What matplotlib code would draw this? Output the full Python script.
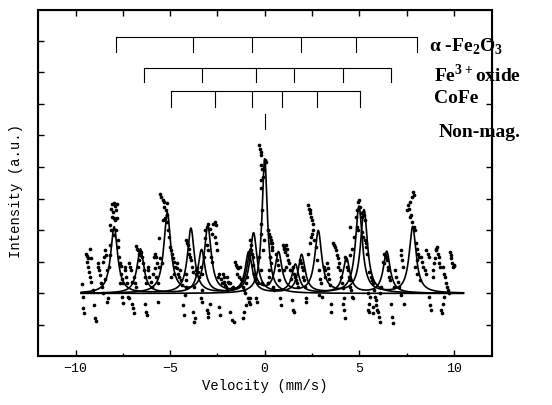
import numpy as np
import matplotlib.pyplot as plt

plt.rcParams['mathtext.fontset'] = 'custom'
plt.rcParams['mathtext.rm'] = 'Liberation Serif:bold'
plt.rcParams['mathtext.bf'] = 'Liberation Serif:bold'
plt.rcParams['axes.unicode_minus'] = True

# measured spectrum (velocity mm/s, relative intensity)
vel = [-9.67, -9.63, -9.58, -9.55, -9.45, -9.40, -9.33, -9.25, -9.20, -9.41, -9.33, -9.30, -9.25, -9.16, -9.08, -9.00, -8.96, -8.93,
       -8.83, -8.80, -8.75, -8.70, -8.63, -8.58, -8.53, -8.49, -8.44, -8.41, -8.36, -8.33, -8.29, -8.55, -8.44,
       -8.13, -8.08, -7.99, -7.91, -7.83, -7.86, -8.03, -7.96, -8.08, -7.91, -7.79, -8.16, -8.11, -7.99, -7.86, -7.78,
       -8.16, -7.74, -8.19, -7.69, -7.66, -8.24, -7.61, -7.56, -7.49, -7.53, -7.49, -7.58, -7.66,
       -7.41, -7.36, -7.32, -7.29, -7.24, -7.19, -7.16, -7.12, -7.07, -7.02, -6.99, -6.96, -6.92, -6.89, -6.86,
       -6.79, -6.74, -6.69, -6.62, -6.57, -6.52, -6.49, -6.66, -6.72, -6.45, -6.40, -6.35, -6.82, -6.29, -6.32, -6.27, -6.24,
       -6.19, -6.15, -6.10, -6.02, -5.95, -5.90, -5.85, -5.79, -5.74, -5.69, -5.82, -5.74, -5.65, -5.62, -5.52, -5.45, -5.57,
       -5.52, -5.48, -5.40, -5.32, -5.18, -5.35, -5.23, -5.15, -5.28, -5.40, -5.18, -5.12, -5.07, -5.57, -5.02, -4.98,
       -4.90, -4.85, -4.82, -4.73, -4.78, -4.95,
       -4.65, -4.62, -4.57, -4.52, -4.48, -4.40, -4.35, -4.31, -4.28, -4.23, -4.18, -4.15, -4.18,
       -4.15, -4.11, -4.06, -4.01, -3.98, -3.95, -3.90, -3.85, -3.81, -3.78, -3.73, -3.68, -3.65, -3.61, -3.56, -3.51, -3.73, -3.48,
       -3.39, -3.34, -3.31, -3.39, -3.34, -3.14, -3.06, -2.98, -2.89, -2.81, -2.73, -2.64, -2.56, -2.64, -2.56, -2.51,
       -3.14, -3.06, -2.98, -3.23, -2.84, -2.81, -2.47, -3.06, -3.01, -2.98, -2.89,
       -2.39, -2.31, -2.27, -2.22, -2.17, -2.14, -2.11, -2.06, -1.97, -1.94, -1.89, -2.39, -2.36, -1.97, -1.81, -1.72, -1.67,
       -1.81, -1.72, -1.64, -1.56, -1.51, -1.47, -1.39, -1.30, -1.44, -1.34, -1.27, -1.22, -1.14, -1.09, -1.05, -1.17, -1.10, -1.00,
       -0.94, -0.89, -0.84, -0.80, -0.77, -0.72, -0.67, -0.64, -0.60, -0.55, -0.50, -0.47, -0.43, -0.80, -0.75, -0.97, -0.38,
       -0.30, -0.25, -0.22, -0.17, -0.13, -0.05, -0.10, -0.20, -0.17, -0.13, -0.22, -0.17, -0.05, -0.10, -0.30, -0.22, -0.13,
       -0.17, 0.00, 0.07, 0.20, 0.28, 0.33, 0.37, 0.28, 0.23, 0.17,
       0.20, 0.23, 0.28, 0.33, 0.37, 0.40, 0.28, 0.33, 0.23, 0.20, 0.45, 0.50,
       0.62, 0.67, 0.70, 0.73, 0.78, 0.83, 0.87, 0.95, 1.00, 1.03, 1.07, 1.12, 1.17, 1.20, 1.23, 1.28, 1.12, 1.03, 1.33, 1.37,
       1.45, 1.50, 1.53,
       1.40, 1.50, 1.57, 1.62, 1.67, 1.70, 1.78, 1.87, 1.90, 1.95, 2.00, 2.03, 2.07, 2.12, 2.17, 2.20,
       2.28, 2.33, 2.37, 2.40, 2.45, 2.50, 2.53, 2.57, 2.50, 2.45, 2.62, 2.70, 2.37, 2.28, 2.78, 2.87, 2.92, 2.95, 2.87, 3.03,
       3.12, 3.17, 3.20,
       3.28, 3.33, 3.37, 3.40, 3.45, 3.50, 3.53, 3.62, 3.67, 3.70, 3.78, 3.83, 3.90, 3.95, 3.87, 4.00, 4.03, 4.07, 4.12, 4.17,
       4.13, 4.20, 4.23,
       4.25, 4.30, 4.37, 4.42, 4.47, 4.53, 4.50, 4.58, 4.62, 4.67, 4.53, 4.62, 4.70, 4.53,
       4.83, 4.90, 4.95, 5.00, 5.03, 5.07, 5.13, 5.20, 5.25, 5.30, 4.87, 4.95, 5.12, 5.20, 5.28, 5.33, 5.37, 5.40, 5.45, 5.45,
       5.50, 5.53, 5.57,
       5.53, 5.62, 5.67, 5.73, 5.78, 5.83, 5.87, 5.90, 5.95, 6.00, 6.03, 6.07, 5.73, 5.70, 6.12, 6.17,
       6.23, 6.28, 6.33, 6.37, 6.43, 6.47, 6.50, 6.53, 6.57, 6.62, 6.70, 6.75, 6.78, 6.83,
       6.87, 6.95, 7.03, 7.12, 7.20, 7.23, 7.28, 7.33, 7.20, 7.37,
       7.50, 7.57, 7.62, 7.70, 7.78, 7.83, 7.87, 7.67, 7.73, 7.78, 7.87, 7.92, 8.00, 8.07, 8.12, 8.17, 8.07, 7.95, 8.03, 8.20,
       8.28, 8.33, 8.37, 8.45, 8.50, 8.53, 8.62, 8.67, 8.70, 8.73, 8.78, 8.87, 8.90, 8.95, 9.00, 9.03,
       9.07, 9.12, 9.17, 9.20, 9.23, 9.28, 9.33, 9.37, 9.45, 9.50, 9.53, 9.57, 9.62, 9.67, 9.50, 9.45, 9.78, 9.83, 9.87, 9.90,
       9.95, 10.00, 10.03, 9.73]
counts = [0.29, -0.11, -0.47, -0.61, 1.24, 1.18, 1.11, 1.39, 1.13, 1.00, 0.84, 0.68, 0.53, 0.37, 0.11, -0.37, -0.79, -0.86,
          0.97, 0.84, 0.74, 0.58, 0.32, 0.21, 1.00, 1.16, 1.37, 1.21, 0.74, -0.26, -0.16, 0.02, 0.47,
          2.68, 2.82, 2.86, 2.76, 2.84, 2.63, 2.58, 2.37, 2.42, 2.32, 2.40, 2.16, 2.00, 1.84, 2.00, 1.68,
          1.53, 1.47, 1.21, 1.16, 0.95, 0.84, 0.63, 0.47, 0.32, -0.11, -0.29, 0.86, 0.32,
          0.84, 0.74, 0.53, 0.32, -0.11, -0.16, 0.97, 0.84, 0.74, 0.37, -0.32, -0.47, -0.63, 0.53, 0.32,
          1.49, 1.42, 1.37, 1.26, 1.21, 1.32, 1.16, 1.05, 0.84, 0.95, 0.74, 0.53, 0.21, 0.32, -0.32, -0.58, -0.68,
          0.84, 0.74, 0.53, 0.37, 0.21, 0.63, 1.16, 1.24, 1.16, 0.95, 0.79, 0.53, -0.26, 0.32, 1.11, 0.95, 0.84,
          3.14, 3.05, 2.95, 2.89, 2.86, 2.74, 2.63, 2.47, 2.37, 2.32, 2.26, 2.00, 1.79, 1.74, 1.47, 1.37,
          1.24, 1.11, 1.00, 0.84, 0.63, 0.53,
          0.95, 0.79, 0.63, 0.53, 0.74, 0.42, 0.26, -0.37, -0.68, -0.05, 0.21, 0.42, 0.63,
          1.68, 1.58, 1.53, 1.42, 1.26, 1.16, 1.05, 0.84, 0.68, -0.58, -0.89, -0.79, 0.63, 0.74, 0.79, 0.68, 0.21, 0.53,
          0.84, 0.63, 0.11, -0.16, -0.26, 2.00, 2.11, 2.21, 2.05, 1.89, 2.21, 2.26, 2.16, 1.79, 1.58, 1.37,
          1.74, 1.53, 1.37, 1.16, 1.16, 1.00, 0.53, -0.53, -0.63, -0.74, -0.32,
          0.63, 0.47, 0.32, 0.63, 0.53, 0.37, 0.26, 0.21, 0.53, 0.37, 0.32, -0.42, -0.68, 0.11, 0.32, 0.16, 0.21,
          -0.58, -0.84, -0.89, 1.00, 0.89, 0.84, 0.79, 0.84, 0.63, 0.53, 0.47, 0.42, 0.21, 0.11, 0.00, -0.79, -0.58, -0.37,
          0.53, -0.16, -0.26, -0.32, -0.16, 1.37, 1.26, 1.16, 0.89, 0.63, 0.42, -0.16, -0.26, 1.68, 1.53, 0.32, 0.32,
          4.68, 4.58, 4.47, 4.37, 3.95, 3.89, 3.68, 3.58, 3.32, 2.63, 2.21, 1.89, 1.68, 1.37, 1.16, 0.74, 0.32,
          4.05, 4.21, 4.16, 2.00, 1.79, 1.58, 1.37, 1.16, 0.74, 0.32,
          2.00, 1.89, 1.79, 1.68, 1.58, 1.47, 1.16, 0.95, 0.53, 0.32, 0.21, 0.11,
          1.26, 1.05, 0.89, 0.74, 0.42, -0.16, -0.37, 1.53, 1.47, 1.42, 1.32, 1.53, 1.42, 1.21, 1.05, 0.95, 0.84, 0.74, 0.74, 0.47,
          -0.21, -0.53, -0.58,
          0.74, 0.84, 0.63, 0.53, 0.42, 0.32, 0.21, 1.05, 0.95, 0.84, 0.74, 0.53, 0.42, 0.21, -0.16, -0.26,
          2.79, 2.68, 2.63, 2.53, 2.42, 2.32, 2.21, 2.00, 1.89, 1.79, 1.68, 1.47, 1.58, 1.26, 1.05, 0.74, 0.47, 0.32, -0.05, -0.11,
          0.84, 0.74, 0.53,
          0.95, 0.79, 0.63, 0.47, 0.26, -0.32, -0.58, 1.58, 1.53, 1.47, 1.37, 1.21, 1.11, 0.95, 0.84, 0.74, 0.53, 0.32, 0.16, -0.16,
          -0.32, -0.53, -0.79,
          1.16, 1.05, 0.84, 0.74, 0.53, 0.42, 0.21, 0.11, -0.11, -0.16, 1.21, 1.42, 1.79, 2.11,
          2.42, 2.63, 2.89, 2.95, 2.74, 2.53, 2.42, 2.58, 2.47, 2.32, 2.11, 2.00, 1.95, 1.79, 1.68, 1.58, 1.47, 1.26, 0.00, -0.53,
          -0.58, -0.32, -0.11,
          0.68, 0.53, 0.42, 0.32, 0.11, -0.11, -0.21, -0.37, -0.53, -0.58, -0.74, -0.89, -0.42, -0.63, 0.00, 0.21,
          1.00, 0.95, 1.26, 1.21, 1.16, 1.05, 0.84, 0.74, 0.53, 0.42, -0.32, -0.74, -0.95, 0.21,
          0.74, 0.53, 0.37, 0.21, 1.37, 1.21, 1.05, 0.84, -0.05, -0.32,
          2.63, 2.79, 2.68, 2.89, 3.05, 3.21, 3.11, 2.42, 2.47, 2.26, 2.11, 2.00, 1.58, 1.42, 1.26, 1.16, 1.05, 0.84, 0.63, 0.42,
          1.16, 1.00, 0.84, 0.74, 0.63, 1.37, 1.26, 1.16, -0.11, -0.37, -0.53, 0.74, 0.53, 0.95, 1.11, 1.37,
          1.42, 1.47, 1.26, 1.16, 0.95, 0.84, -0.53, -0.63, 0.84, 0.63, 0.53, 0.32, 0.21, 0.11, -0.11, -0.32, 1.32, 1.21, 1.11, 0.95,
          0.84, 0.89, 0.86, 0.00]

# fitted sub-spectra: line positions (mm/s), heights, half widths
alpha_pos = [-7.96, -3.90, -0.85, 1.95, 4.98, 7.82]
alpha_h = [2.10, 2.05, 1.30, 1.21, 2.74, 2.10]
fe3_pos = [-6.57, -3.34, -0.59, 1.62, 4.32, 6.45]
fe3_h = [1.40, 1.37, 1.90, 0.90, 1.10, 1.32]
cofe_pos = [-5.15, -3.01, -0.75, 0.73, 2.83, 5.25]
cofe_h = [2.53, 2.10, 1.35, 1.26, 1.95, 2.63]
single_pos = [0.0]
single_h = [4.26]
hwhm = 0.22
hwhm_single = 0.17

# stick diagrams
stick_alpha = [-7.84, -3.78, -0.69, 1.91, 4.81, 8.06]
stick_fe3 = [-6.38, -3.30, -0.48, 1.57, 4.13, 6.70]
stick_cofe = [-4.93, -2.63, -0.69, 0.90, 2.76, 5.02]
stick_single = [0.0]

fig = plt.figure(figsize=(5.52, 4.05), dpi=100)
ax = fig.add_axes([0.0683, 0.1217, 0.8225, 0.8548])

v = np.linspace(-9.7, 10.5, 2000)
for pos, h, w in [(alpha_pos, alpha_h, hwhm), (fe3_pos, fe3_h, hwhm),
                  (cofe_pos, cofe_h, hwhm), (single_pos, single_h, hwhm_single)]:
    y = np.zeros_like(v)
    for p, a in zip(pos, h):
        y += a * w**2 / ((v - p)**2 + w**2)
    ax.plot(v, y, color='black', lw=1.2)

ax.scatter(vel, counts, s=7, color='black', linewidths=0, zorder=3)

# stick markers
for sticks, ytop, ybot in [(stick_alpha, 8.10, 7.63), (stick_fe3, 7.12, 6.70),
                           (stick_cofe, 6.41, 5.90)]:
    ax.plot([sticks[0], sticks[-1]], [ytop, ytop], color='black', lw=0.8)
    for s in sticks:
        ax.plot([s, s], [ytop, ybot], color='black', lw=0.8)
ax.plot([stick_single[0], stick_single[0]], [5.67, 5.19], color='black', lw=0.8)

lab = dict(fontsize=14, fontweight='bold', family='Liberation Serif', va='center', clip_on=False)
ax.text(8.7, 7.8, r'α -Fe$_2$O$_3$', **lab)
ax.text(8.95, 6.9, r'Fe$^{3+}$oxide', **lab)
ax.text(8.95, 6.15, 'CoFe', **lab)
ax.text(9.2, 5.1, 'Non-mag.', **lab)

ax.set_xlim(-12, 12)
ax.set_ylim(-1.97, 8.98)
ax.set_xticks([-10, -5, 0, 5, 10])
ax.set_xticks(np.arange(-7.5, 10, 5), minor=True)
ax.set_yticks(np.arange(-1, 9))
ax.set_yticklabels([])
ax.tick_params(direction='in', length=4.5, width=1, top=False, right=True,
               labelsize=9.5, pad=5)
ax.tick_params(which='minor', direction='in', length=2.2, width=1)
for lbl in ax.get_xticklabels():
    lbl.set_family('Liberation Mono')
for sp in ax.spines.values():
    sp.set_linewidth(1.5)

top = ax.twiny()
top.set_xlim(-12, 12)
top.set_xticks(np.arange(-10, 12.5, 2.5))
top.set_xticklabels([])
top.tick_params(direction='in', length=4.5, width=1)

ax.set_xlabel('Velocity (mm/s)', family='Liberation Mono', fontsize=10, labelpad=3)
ax.set_ylabel('Intensity (a.u.)', family='Liberation Mono', fontsize=10)
ax.yaxis.set_label_coords(-0.032, 0.476)

fig.savefig('out.png', dpi=100)
